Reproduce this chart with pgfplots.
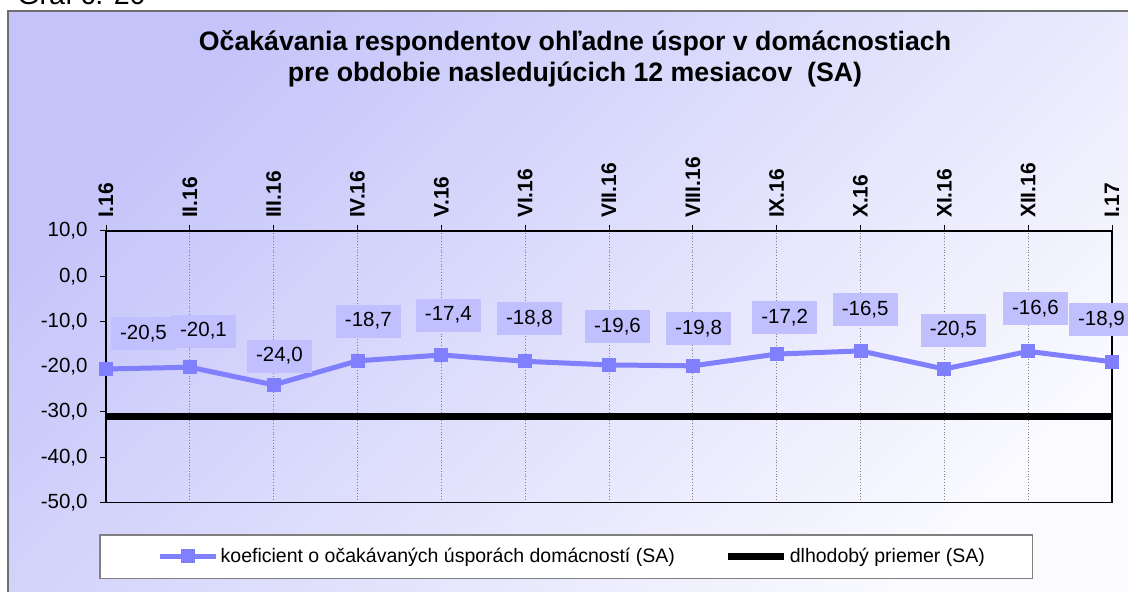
\documentclass[border=0pt]{standalone}
\usepackage{pgfplots}
\pgfplotsset{compat=1.18}
\usepackage{pgfplotstable}
\usepackage{fontspec}
\setmainfont{Liberation Sans}
\definecolor{series}{RGB}{128,128,255}
\definecolor{labelfill}{RGB}{192,192,255}
\definecolor{bgA}{RGB}{196,196,250}
\definecolor{bgB}{RGB}{250,250,255}
\definecolor{framegray}{RGB}{110,110,110}

\pgfplotstableread{
x y dx dy lab
0 -20.5 18.75 17.8 -20,5
1 -20.1 6.85 18.0 -20,1
2 -24.0 2.9 14.35 -24,0
3 -18.7 5.4 19.9 -18,7
4 -17.4 3.5 19.9 -17,4
5 -18.8 2.15 21.5 -18,8
6 -19.6 4.25 19.35 -19,6
7 -19.8 2.85 18.8 -19,8
8 -17.2 4.0 18.1 -17,2
9 -16.5 2.35 20.85 -16,5
10 -20.5 4.5 19.45 -20,5
11 -16.6 3.65 21.55 -16,6
12 -18.9 -5.25 21.2 -18,9
}\coefdata

\pgfplotstableread{
x y
0 -31.1
1 -31.1
2 -31.1
3 -31.1
4 -31.1
5 -31.1
6 -31.1
7 -31.1
8 -31.1
9 -31.1
10 -31.1
11 -31.1
12 -31.1
}\avgdata

\begin{document}
\begin{tikzpicture}
\useasboundingbox (0,0) rectangle (564pt,296pt);
\clip (0,0) rectangle (564pt,296pt);
% chart background
\shade[top color=bgA, bottom color=bgB, shading angle=45] (4pt,-5pt) rectangle (570pt,290.5pt);
\draw[framegray, line width=0.75pt] (4pt,-5pt) -- (4pt,290.5pt) -- (570pt,290.5pt);
% caption above the chart (cut off at top, as in the original)
\node[anchor=base west, inner sep=0pt, font=\fontsize{14.3}{16}\selectfont] at (8.5pt,293.5pt) {Graf č. 20};
% title
\node[anchor=base, inner sep=0pt, font=\fontsize{13.35}{15}\selectfont\bfseries] at (287.5pt,270.5pt) {Očakávania respondentov ohľadne úspor v domácnostiach};
\node[anchor=base, inner sep=0pt, font=\fontsize{13.35}{15}\selectfont\bfseries] at (287.5pt,255.25pt) {pre obdobie nasledujúcich 12 mesiacov\ \ (SA)};
% legend frame
\draw[gray, fill=white, line width=0.6pt] (50pt,6.85pt) rectangle (516.35pt,28.5pt);
\begin{axis}[
  at={(53pt,44.75pt)}, anchor=south west,
  scale only axis, width=503pt, height=135.75pt,
  xmin=0, xmax=12, ymin=-50, ymax=10,
  clip=false,
  axis line style={black, line width=0.6pt},
  xtick={0,...,12},
  xticklabels={I.16,II.16,III.16,IV.16,V.16,VI.16,VII.16,VIII.16,IX.16,X.16,XI.16,XII.16,I.17},
  xtick pos=right, xticklabel pos=right,
  x tick label style={rotate=90, anchor=west, font=\fontsize{10.5}{12}\selectfont\bfseries},
  ytick={-50,-40,-30,-20,-10,0,10},
  yticklabels={{-50,0},{-40,0},{-30,0},{-20,0},{-10,0},{0,0},{10,0}},
  ytick pos=left,
  y tick label style={font=\fontsize{10.25}{12}\selectfont, xshift=-2.7pt},
  tick align=outside, major tick length=3pt,
  tick style={black, line width=0.5pt},
  xmajorgrids,
  major x grid style={densely dotted, gray, line width=0.5pt},
  legend columns=2,
  legend cell align=left,
  legend image code/.code={\draw[mark repeat=2,mark phase=2,#1] plot coordinates {(0pt,0pt) (14pt,0pt) (28pt,0pt)};},
  legend style={at={(axis description cs:0.051,-0.1989)}, anchor=west, draw=none, fill=none,
    inner sep=0pt, font=\fontsize{9.75}{11}\selectfont, nodes={inner sep=1pt},
    /tikz/every even column/.append style={column sep=24pt}},
]
\addplot[color=series, line width=2.5pt, mark=square*, mark size=3.25pt,
  mark options={solid, fill=series, draw=series, line width=0pt},
  nodes near coords, point meta=explicit symbolic,
  visualization depends on={\thisrow{dx} \as \dx},
  visualization depends on={\thisrow{dy} \as \dy},
  every node near coord/.append style={anchor=center, xshift=\dx pt, yshift=\dy pt,
    fill=labelfill, text=black, inner xsep=4.55pt, inner ysep=3.75pt,
    text height=7.4pt, text depth=1.6pt, font=\fontsize{10.25}{12}\selectfont}]
  table[x=x, y=y, meta=lab] {\coefdata};
\addlegendentry{koeficient o očakávaných úsporách domácností (SA)}
\addplot[color=black, line width=3.5pt, mark=none] table[x=x, y=y] {\avgdata};
\addlegendentry{dlhodobý priemer (SA)}
\end{axis}
\end{tikzpicture}
\end{document}
